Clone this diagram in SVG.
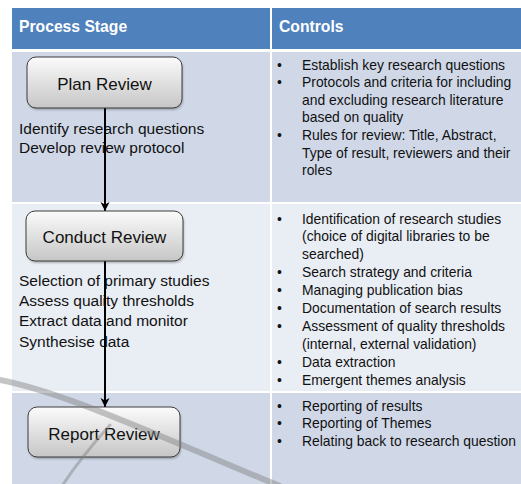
<svg xmlns="http://www.w3.org/2000/svg" width="521" height="484" viewBox="0 0 521 484">
<style>
text{font-family:"Liberation Sans",Arial,sans-serif;fill:#111}
.hd{font-weight:bold;font-size:15.7px;fill:#fff}
.bt{font-size:17px;text-anchor:middle}
.lt{font-size:15.5px}
.rt{font-size:13.9px}
.box{fill:url(#g);stroke:#3a3a3a;stroke-width:1}
.sh{fill:#000;opacity:.25;filter:url(#bl)}
.ln{stroke:#000;stroke-width:2;fill:none;marker-end:url(#ah)}
.wm{fill:none;stroke:#808080;stroke-linecap:round}
</style>
<defs>
<linearGradient id="g" x1="0" y1="0" x2="0" y2="1">
<stop offset="0" stop-color="#fbfbfb"/>
<stop offset="1" stop-color="#c6c6c6"/>
</linearGradient>
<filter id="bl" x="-10%" y="-10%" width="120%" height="130%"><feGaussianBlur stdDeviation="1.2"/></filter>
<marker id="ah" markerWidth="10" markerHeight="10" refX="9" refY="5" orient="auto" markerUnits="userSpaceOnUse">
<path d="M0,0.5 L9,5 L0,9.5 L2.5,5 Z" fill="#000"/>
</marker>
</defs>
<rect width="521" height="484" fill="#fff"/>
<g id="table">
<rect x="12" y="8" width="258" height="41" fill="#4f81bd"/>
<rect x="272" y="8" width="249" height="41" fill="#4f81bd"/>
<rect x="12" y="52" width="258" height="150" fill="#d0d8e8"/>
<rect x="272" y="52" width="249" height="150" fill="#d0d8e8"/>
<rect x="12" y="204" width="258" height="187" fill="#e9edf4"/>
<rect x="272" y="204" width="249" height="187" fill="#e9edf4"/>
<rect x="12" y="393" width="258" height="91" fill="#d0d8e8"/>
<rect x="272" y="393" width="249" height="91" fill="#d0d8e8"/>
<text class="hd" x="19" y="32">Process Stage</text>
<text class="hd" x="279" y="32">Controls</text>
</g>
<g id="left-texts">
<text class="lt" x="19" y="134">Identify research questions</text>
<text class="lt" x="19" y="153">Develop review protocol</text>
<text class="lt" x="19" y="286">Selection of primary studies</text>
<text class="lt" x="19" y="306">Assess quality thresholds</text>
<text class="lt" x="19" y="326">Extract data and monitor</text>
<text class="lt" x="19" y="347">Synthesise data</text>
</g>
<g id="connectors">
<line class="ln" x1="105" y1="108" x2="105" y2="211"/>
<line class="ln" x1="105" y1="261" x2="105" y2="407"/>
</g>
<g id="plan-review">
<rect class="sh" x="28" y="59" width="155" height="51" rx="9"/>
<rect class="box" x="27" y="57" width="155" height="51" rx="9"/>
<text class="bt" x="104.5" y="90">Plan Review</text>
</g>
<g id="conduct-review">
<rect class="sh" x="27" y="213" width="157" height="50" rx="9"/>
<rect class="box" x="26" y="211" width="157" height="50" rx="9"/>
<text class="bt" x="104.5" y="243">Conduct Review</text>
</g>
<g id="report-review">
<rect class="sh" x="29" y="409" width="152" height="50" rx="9"/>
<rect class="box" x="28" y="407" width="152" height="50" rx="9"/>
<text class="bt" x="104" y="440">Report Review</text>
</g>
<g id="controls-plan" class="rt">
<text class="rt" x="277" y="69.5">•</text>
<text class="rt" x="302" y="69.5">Establish key research questions</text>
<text class="rt" x="277" y="87">•</text>
<text class="rt" x="302" y="87">Protocols and criteria for including</text>
<text class="rt" x="302" y="104.5">and excluding research literature</text>
<text class="rt" x="302" y="122">based on quality</text>
<text class="rt" x="277" y="140">•</text>
<text class="rt" x="302" y="140">Rules for review: Title, Abstract,</text>
<text class="rt" x="302" y="157.5">Type of result, reviewers and their</text>
<text class="rt" x="302" y="175">roles</text>
</g>
<g id="controls-conduct">
<text class="rt" x="277" y="223.5">•</text>
<text class="rt" x="302" y="223.5">Identification of research studies</text>
<text class="rt" x="302" y="241.4">(choice of digital libraries to be</text>
<text class="rt" x="302" y="259.3">searched)</text>
<text class="rt" x="277" y="277.2">•</text>
<text class="rt" x="302" y="277.2">Search strategy and criteria</text>
<text class="rt" x="277" y="295.1">•</text>
<text class="rt" x="302" y="295.1">Managing publication bias</text>
<text class="rt" x="277" y="313">•</text>
<text class="rt" x="302" y="313">Documentation of search results</text>
<text class="rt" x="277" y="330.9">•</text>
<text class="rt" x="302" y="330.9">Assessment of quality thresholds</text>
<text class="rt" x="302" y="348.8">(internal, external validation)</text>
<text class="rt" x="277" y="366.7">•</text>
<text class="rt" x="302" y="366.7">Data extraction</text>
<text class="rt" x="277" y="384.6">•</text>
<text class="rt" x="302" y="384.6">Emergent themes analysis</text>
</g>
<g id="controls-report">
<text class="rt" x="277" y="410.5">•</text>
<text class="rt" x="302" y="410.5">Reporting of results</text>
<text class="rt" x="277" y="428">•</text>
<text class="rt" x="302" y="428">Reporting of Themes</text>
<text class="rt" x="277" y="445.5">•</text>
<text class="rt" x="302" y="445.5">Relating back to research question</text>
</g>
<g id="watermark" opacity="0.45">
<path class="wm" stroke-width="6" d="M0,380 C50,390 110,415 170,440 S250,474 280,486"/>
<path class="wm" stroke-width="3" d="M62,486 C75,466 92,445 110,425"/>
</g>
</svg>
